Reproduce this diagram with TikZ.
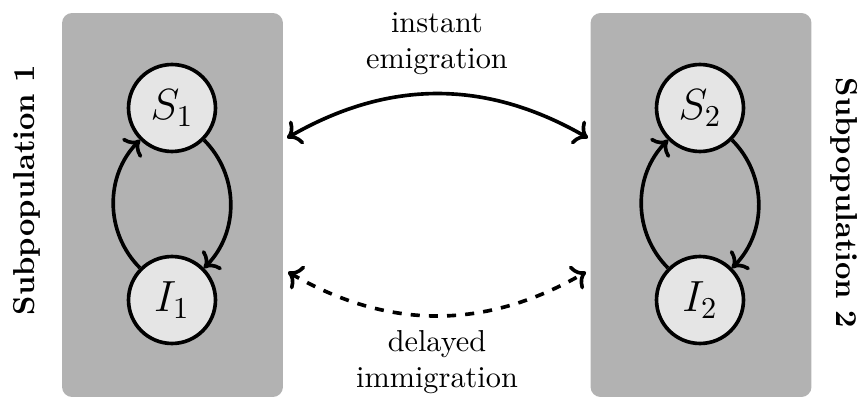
\documentclass[tikz,border=0pt]{standalone}
\usetikzlibrary{arrows.meta}
\begin{document}
\begin{tikzpicture}[x=0.33pt,y=0.33pt,
  popbox/.style={fill=gray!60, draw=none, rounded corners=3.3pt, minimum width=72.9pt, minimum height=126.7pt, inner sep=0pt},
  state/.style={circle, draw, line width=1.2pt, fill=gray!20, minimum size=28.7pt, inner sep=0pt, font=\Large},
  flow/.style={->, line width=1.2pt},
  lbl/.style={align=center, inner sep=0pt},
  poplbl/.style={font=\bfseries, inner sep=0pt}]
\useasboundingbox (0,0) rectangle (860,-397);
% subpopulation boxes
\node[popbox] (box1) at (172.5,-205) {};
\node[popbox] (box2) at (701,-205) {};
% states
\node[state] (S1) at (172,-108) {$S_1$};
\node[state] (I1) at (172,-300) {$I_1$};
\node[state] (S2) at (700,-108) {$S_2$};
\node[state] (I2) at (700,-300) {$I_2$};
% internal transitions
\draw[flow] (S1) to[bend left=45] (I1);
\draw[flow] (I1) to[bend left=45] (S1);
\draw[flow] (S2) to[bend left=45] (I2);
\draw[flow] (I2) to[bend left=45] (S2);
% migration connectors
\coordinate (ea) at (287,-138);
\coordinate (eb) at (588,-138);
\coordinate (da) at (288,-272);
\coordinate (db) at (586,-272);
\draw[flow,<->] (ea) to[bend left=30] (eb);
\draw[flow,<->,dashed] (da) to[bend right=30] (db);
% labels
\node[lbl] (inst) at (437,-43.5) {instant\\emigration};
\node[lbl] (dela) at (437,-362) {delayed\\immigration};
\node[poplbl, rotate=90] (P1) at (27,-190) {Subpopulation 1};
\node[poplbl, rotate=-90] (P2) at (844,-203) {Subpopulation 2};
\end{tikzpicture}
\end{document}
